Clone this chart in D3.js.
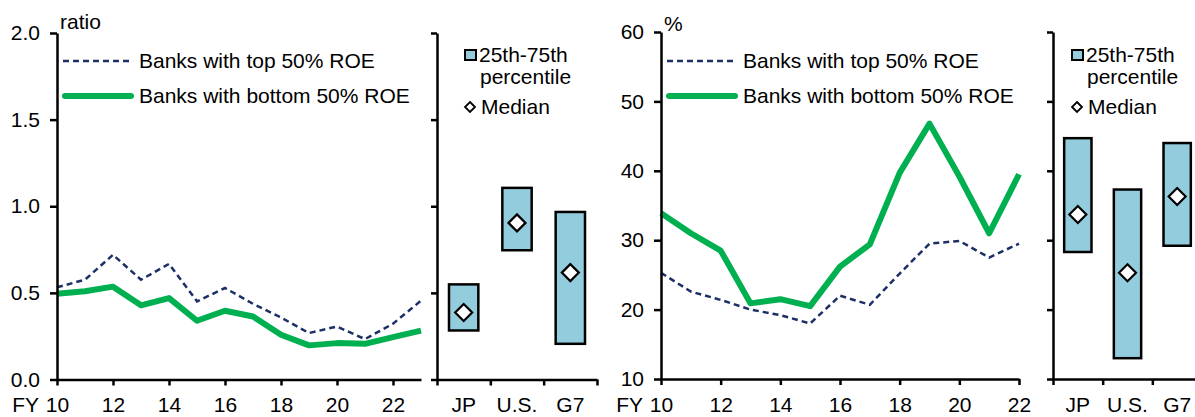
<!DOCTYPE html>
<html><head><meta charset="utf-8">
<script src="https://cdn.jsdelivr.net/npm/d3@7"></script>
<style>
html,body{margin:0;padding:0;background:#fff;}
svg{display:block;font-family:"Liberation Sans",Arial,sans-serif;}
</style></head>
<body><svg id="c" width="1195" height="417"></svg>
<script>
// ---- data ----
const years = [10,11,12,13,14,15,16,17,18,19,20,21,22,23];
const ratioTop    = [0.532,0.576,0.72,0.576,0.667,0.451,0.528,0.437,0.358,0.268,0.306,0.233,0.322,0.455];
const ratioBottom = [0.495,0.509,0.536,0.428,0.47,0.339,0.397,0.364,0.258,0.197,0.21,0.206,0.245,0.282];
const yearsPct = [10,11,12,13,14,15,16,17,18,19,20,21,22];
const pctTop    = [25.3,22.6,21.4,20.0,19.2,18.0,22.0,20.7,25.2,29.5,29.9,27.5,29.5];
const pctBottom = [33.9,31.0,28.5,20.9,21.5,20.5,26.2,29.4,39.7,46.8,39.2,31.0,39.5];
const regions = ["JP","U.S.","G7"];
const ratioP25 = [0.283,0.746,0.206];
const ratioP75 = [0.549,1.106,0.967];
const ratioMed = [0.387,0.904,0.617];
const pctP25 = [28.3,13.0,29.2];
const pctP75 = [44.7,37.3,44.0];
const pctMed = [33.7,25.3,36.3];
const ratioTicks = [0,0.5,1.0,1.5,2.0];
const pctTicks = [10,20,30,40,50,60];
const xTickYears = [10,12,14,16,18,20,22];
const seriesNames = ["Banks with top 50% ROE","Banks with bottom 50% ROE"];

// ---- style ----
const FONT = 21;
const LABEL_Y = 412;
const NAVY = "#1c2f66", GREEN = "#00b050", BOXFILL = "#93cddd";
const svg = d3.select("#c");

function styleAxis(g){
  g.selectAll(".domain").attr("stroke","#000").attr("stroke-width",2.5);
  g.selectAll(".tick line").attr("stroke","#000").attr("stroke-width",2.5);
  g.selectAll("text").attr("font-size",FONT).attr("fill","#000").attr("font-family","Liberation Sans, Arial, sans-serif");
}

function linePanel(o){
  const x = d3.scaleLinear().domain(o.xd).range([o.x0,o.x1]);
  const y = d3.scaleLinear().domain(o.yd).range([o.yb,o.yt]);
  const ln = d3.line().x((d,i)=>x(o.xs[i])).y(d=>y(d));
  svg.append("path").datum(o.top).attr("d",ln).attr("fill","none")
     .attr("stroke",NAVY).attr("stroke-width",2.5).attr("stroke-dasharray","6,4");
  svg.append("path").datum(o.bot).attr("d",ln).attr("fill","none")
     .attr("stroke",GREEN).attr("stroke-width",6).attr("stroke-linejoin","round");
  const gy = svg.append("g").attr("transform",`translate(${o.x0},0)`)
    .call(d3.axisLeft(y).tickValues(o.yticks).tickFormat(o.fmt).tickSizeInner(7).tickSizeOuter(0).tickPadding(10));
  styleAxis(gy);
  const gx = svg.append("g").attr("transform",`translate(0,${o.yb})`)
    .call(d3.axisBottom(x).tickValues(xTickYears).tickFormat(d3.format("d")).tickSizeInner(6).tickSizeOuter(0));
  styleAxis(gx);
  gx.selectAll(".tick text").attr("y",LABEL_Y-o.yb).attr("dy",0);
  svg.append("text").attr("x",o.x0-18).attr("y",LABEL_Y).attr("text-anchor","end")
     .attr("font-size",FONT).text("FY");
  svg.append("text").attr("x",o.x0+3).attr("y",o.unitY).attr("font-size",FONT).text(o.unit);
  const lx = o.x0+6;
  svg.append("line").attr("x1",lx).attr("x2",lx+69).attr("y1",61).attr("y2",61)
     .attr("stroke",NAVY).attr("stroke-width",2.5).attr("stroke-dasharray","6,4");
  svg.append("line").attr("x1",lx+2).attr("x2",lx+68).attr("y1",96).attr("y2",96)
     .attr("stroke",GREEN).attr("stroke-width",6).attr("stroke-linecap","round");
  svg.append("text").attr("x",lx+76).attr("y",68).attr("font-size",FONT).text(seriesNames[0]);
  svg.append("text").attr("x",lx+76).attr("y",103).attr("font-size",FONT).text(seriesNames[1]);
}

function diamond(cx,cy,r,sw){
  svg.append("path").attr("d",`M${cx},${cy-r}L${cx+r},${cy}L${cx},${cy+r}L${cx-r},${cy}Z`)
     .attr("fill","#fff").attr("stroke","#000").attr("stroke-width",sw);
}

function boxPanel(o){
  const xb = d3.scaleBand().domain(regions).range([o.x0,o.x1]).paddingInner(0.45).paddingOuter(0.225);
  const xl = d3.scaleLinear().domain([0,3]).range([o.x0,o.x1]);
  const y = d3.scaleLinear().domain(o.yd).range([o.yb,o.yt]);
  regions.forEach((r,i)=>{
    svg.append("rect").attr("x",xb(r)).attr("width",xb.bandwidth())
      .attr("y",y(o.p75[i])).attr("height",y(o.p25[i])-y(o.p75[i]))
      .attr("fill",BOXFILL).attr("stroke","#000").attr("stroke-width",2.5);
    diamond(xb(r)+xb.bandwidth()/2, y(o.med[i]), 8.5, 2.2);
  });
  const gy = svg.append("g").attr("transform",`translate(${o.x0},0)`)
    .call(d3.axisLeft(y).tickValues(o.yticks).tickFormat("").tickSizeInner(6).tickSizeOuter(0));
  styleAxis(gy);
  const gx = svg.append("g").attr("transform",`translate(0,${o.yb})`)
    .call(d3.axisBottom(xl).tickValues([0,1,2,3]).tickFormat("").tickSizeInner(6).tickSizeOuter(0));
  styleAxis(gx);
  regions.forEach(r=>{
    svg.append("text").attr("x",xb(r)+xb.bandwidth()/2).attr("y",LABEL_Y).attr("text-anchor","middle")
       .attr("font-size",FONT).text(r);
  });
  const lx = o.x0+o.lgOff;
  svg.append("rect").attr("x",lx).attr("y",50).attr("width",11).attr("height",10)
     .attr("fill",BOXFILL).attr("stroke","#000").attr("stroke-width",2);
  svg.append("text").attr("x",lx+14).attr("y",62).attr("font-size",FONT).text("25th-75th");
  svg.append("text").attr("x",lx+15).attr("y",84).attr("font-size",FONT).text("percentile");
  diamond(lx+5, 107, 5, 1.8);
  svg.append("text").attr("x",lx+16).attr("y",114).attr("font-size",FONT).text("Median");
}

linePanel({x0:57,x1:421,xd:[10,23],yb:379.5,yt:33,yd:[0,2],xs:years,top:ratioTop,bot:ratioBottom,
  yticks:ratioTicks,fmt:d3.format(".1f"),unit:"ratio",unitY:29});
boxPanel({x0:437,x1:597,yb:379.5,yt:33,yd:[0,2],p25:ratioP25,p75:ratioP75,med:ratioMed,yticks:ratioTicks,lgOff:28});
linePanel({x0:661,x1:1019,xd:[10,22],yb:379,yt:32,yd:[10,60],xs:yearsPct,top:pctTop,bot:pctBottom,
  yticks:pctTicks,fmt:d3.format("d"),unit:"%",unitY:31});
boxPanel({x0:1053,x1:1202,yb:379,yt:32,yd:[10,60],p25:pctP25,p75:pctP75,med:pctMed,yticks:pctTicks,lgOff:19});
</script></body></html>
